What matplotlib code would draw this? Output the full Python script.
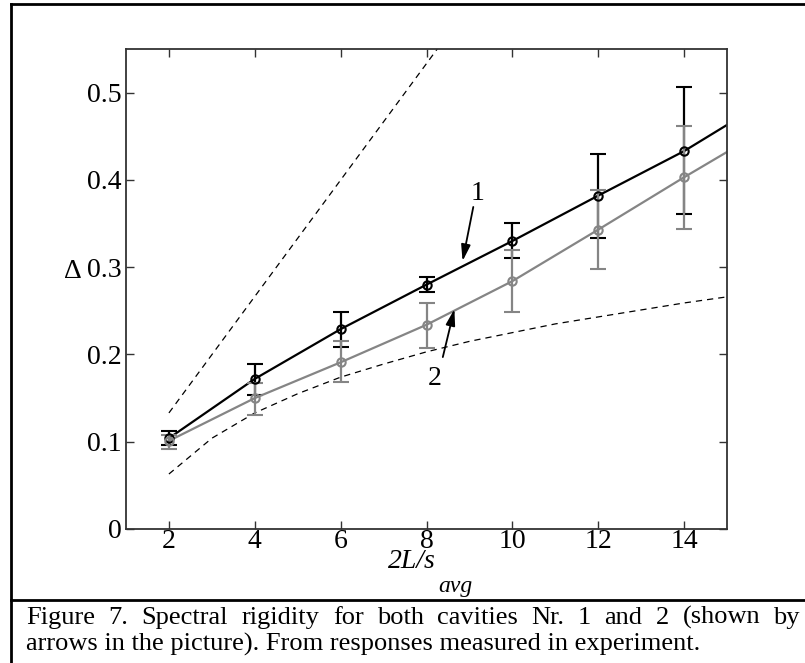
import matplotlib
matplotlib.use("Agg")
import matplotlib.pyplot as plt
from matplotlib.lines import Line2D

plt.rcParams["font.family"] = ["Liberation Serif", "DejaVu Serif"]

# measured points (cavity 1 = black, cavity 2 = gray)
x_pts = [2, 4, 6, 8, 10, 12, 14]
y1 = [0.104, 0.172, 0.229, 0.280, 0.330, 0.382, 0.433]
y1_lo = [0.096, 0.153, 0.209, 0.272, 0.310, 0.334, 0.361]
y1_hi = [0.112, 0.189, 0.249, 0.289, 0.351, 0.430, 0.506]
y2 = [0.101, 0.150, 0.191, 0.234, 0.284, 0.343, 0.403]
y2_lo = [0.092, 0.131, 0.168, 0.207, 0.249, 0.298, 0.344]
y2_hi = [0.108, 0.167, 0.215, 0.259, 0.320, 0.389, 0.462]

# fitted curves drawn through the points, continued to the right edge
x_fit = [2, 4, 6, 8, 10, 12, 14, 15]
y1_fit = [0.104, 0.172, 0.229, 0.280, 0.330, 0.382, 0.433, 0.463]
y2_fit = [0.101, 0.150, 0.191, 0.234, 0.284, 0.343, 0.403, 0.432]

# reference curves (dashed)
x_poisson = [2, 8.25]
y_poisson = [0.133, 0.550]
x_goe = [2, 3, 4, 5, 6, 7, 8, 9, 10, 11, 12, 13, 14, 15]
y_goe = [0.063, 0.104, 0.133, 0.155, 0.174, 0.189, 0.203, 0.215, 0.225,
         0.235, 0.243, 0.251, 0.259, 0.266]

x_ticks = [2, 4, 6, 8, 10, 12, 14]
y_ticks = [0, 0.1, 0.2, 0.3, 0.4, 0.5]
y_ticklabels = ["0", "0.1", "0.2", "0.3", "0.4", "0.5"]

caption1 = "Figure 7. Spectral rigidity for both cavities Nr. 1 and 2 (shown by"
caption2 = "arrows in the picture). From responses measured in experiment."

GRAY = "#858585"
W, H = 805, 663
FS = 20

fig = plt.figure(figsize=(W / 100, H / 100), dpi=100)
ax = fig.add_axes([126 / W, 1 - 529 / H, (727 - 126) / W, (529 - 49) / H])

ax.plot(x_poisson, y_poisson, color="black", lw=0.9, dashes=(5, 4))
ax.plot(x_goe, y_goe, color="black", lw=0.9, dashes=(5, 4))

ax.plot(x_fit, y1_fit, color="black", lw=1.6)
ax.errorbar(x_pts, y1, yerr=[[a - b for a, b in zip(y1, y1_lo)], [b - a for a, b in zip(y1, y1_hi)]],
            fmt="o", color="black", mfc="none", ms=6, mew=1.5, elinewidth=1.6,
            capsize=6, capthick=1.6)
ax.plot(x_fit, y2_fit, color=GRAY, lw=1.6)
ax.errorbar(x_pts, y2, yerr=[[a - b for a, b in zip(y2, y2_lo)], [b - a for a, b in zip(y2, y2_hi)]],
            fmt="o", color=GRAY, mfc="none", ms=6, mew=1.5, elinewidth=1.6,
            capsize=6, capthick=1.6)

# arrows pointing at the curves
arrow = dict(arrowstyle="-|>,head_length=0.7,head_width=0.2", color="black", lw=1.3,
             mutation_scale=14, shrinkA=0, shrinkB=0)
ax.annotate("", xy=(8.84, 0.307), xytext=(9.09, 0.369), arrowprops=arrow)
ax.text(9.19, 0.384, "1", fontsize=FS, ha="center", va="center")
ax.annotate("", xy=(8.65, 0.252), xytext=(8.38, 0.197), arrowprops=arrow)
ax.text(8.19, 0.172, "2", fontsize=FS, ha="center", va="center")

ax.set_xlim(1, 15)
ax.set_ylim(0, 0.55)
ax.set_xticks(x_ticks)
ax.set_yticks(y_ticks)
ax.set_yticklabels(y_ticklabels)
ax.tick_params(direction="in", top=True, right=True, length=6, width=1,
               labelsize=FS, color="#333333")
ax.tick_params(axis="x", pad=0)
ax.tick_params(axis="y", pad=3)
for s in ax.spines.values():
    s.set_linewidth(1.3)
    s.set_color("#333333")

# axis labels: MATLAB style with a low subscript
fig.text(436 / W, 1 - 568 / H, "2L/s", fontsize=FS, style="italic", ha="right", va="baseline")
fig.text(438 / W, 1 - 592 / H, "avg", fontsize=17, style="italic", ha="left", va="baseline")
fig.text(73 / W, 1 - 271 / H, "\u0394", fontsize=FS, ha="center", va="center")

# outer frame and caption box
frame = dict(color="black", lw=2, transform=fig.transFigure)
fig.add_artist(Line2D([11 / W, 11 / W], [0, 1 - 4 / H], **frame))
fig.add_artist(Line2D([11 / W, 1], [1 - 4 / H, 1 - 4 / H], **frame))
fig.add_artist(Line2D([11 / W, 1], [1 - 600 / H, 1 - 600 / H], **frame))

fig.canvas.draw()
r = fig.canvas.get_renderer()
words = caption1.split()
objs = [fig.text(0, 1 - 624 / H, w, fontsize=19, va="baseline") for w in words]
widths = [o.get_window_extent(r).width for o in objs]
x0, x1 = 26, 800
gap = (x1 - x0 - sum(widths)) / (len(words) - 1)
xp = x0
for o, wd in zip(objs, widths):
    o.set_x(xp / W)
    xp += wd + gap
fig.text(x0 / W, 1 - 651 / H, caption2, fontsize=19, va="baseline")

fig.savefig("out.png", dpi=100)
